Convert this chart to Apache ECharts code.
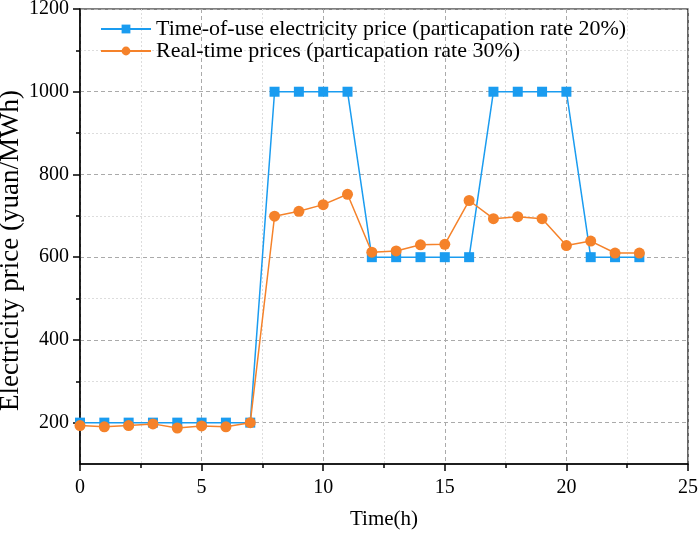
<!DOCTYPE html>
<html><head><meta charset="utf-8">
<script src="https://cdn.jsdelivr.net/npm/echarts@6/dist/echarts.min.js"></script>
<style>html,body{margin:0;padding:0;background:#fff}#c{width:699px;height:535px}</style>
</head><body><div id="c"></div>
<script>
const hours = [0,1,2,3,4,5,6,7,8,9,10,11,12,13,14,15,16,17,18,19,20,21,22,23];
const touPrice = [200,200,200,200,200,200,200,200,1000,1000,1000,1000,600,600,600,600,600,1000,1000,1000,1000,600,600,600];
const rtPrice = [193,190,193,197,187,192,190,200,699,711,727,752,612,615,630,631,737,693,698,693,628,639,610,610];
const yMajorTicks = [200,400,600,800,1000,1200];
const yMinorTicks = [300,500,700,900,1100];
const seriesNames = ['Time-of-use electricity price (particapation rate 20%)','Real-time prices (particapation rate 30%)'];

const font = 'Liberation Serif, Times New Roman, serif';
const chart = echarts.init(document.getElementById('c'));
chart.setOption({
  animation:false,
  textStyle:{fontFamily:font},
  grid:{left:80,right:11,top:9,bottom:71,outerBoundsMode:'none',containLabel:false,show:true,borderColor:'#000',borderWidth:1.2,backgroundColor:'transparent'},
  legend:{
    orient:'vertical', left:95, top:13, itemWidth:50, itemHeight:11, itemGap:0,
    textStyle:{fontFamily:font,fontSize:22,color:'#000'},
    data:seriesNames
  },
  xAxis:{
    type:'value', min:0, max:25, interval:5,
    name:'Time(h)', nameLocation:'middle', nameGap:45, nameMoveOverlap:false,
    nameTextStyle:{fontFamily:font,fontSize:21,color:'#000'},
    axisLine:{show:true,lineStyle:{color:'#000',width:1.5}},
    axisTick:{show:true,length:7,lineStyle:{color:'#000',width:1.5}},
    minorTick:{show:true,splitNumber:2,length:4,lineStyle:{color:'#000',width:1.5}},
    axisLabel:{fontFamily:font,fontSize:20,color:'#000',margin:14},
    splitLine:{show:true,lineStyle:{color:'#aaa',type:[4,3],width:1}},
    minorSplitLine:{show:true,lineStyle:{color:'#ddd',type:[2,2],width:1}}
  },
  yAxis:[{
    type:'value', min:100, max:1200,
    name:'Electricity price (yuan/MWh)', nameLocation:'middle', nameGap:56, nameMoveOverlap:false,
    nameTextStyle:{fontFamily:font,fontSize:27,color:'#000',padding:[0,28,0,0]},
    axisLine:{show:true,lineStyle:{color:'#000',width:1.5}},
    axisTick:{show:true,length:7,customValues:yMajorTicks,lineStyle:{color:'#000',width:1.5}},
    axisLabel:{fontFamily:font,fontSize:20,color:'#000',margin:11,customValues:yMajorTicks,formatter:v=>String(v)},
    splitLine:{show:true,lineStyle:{color:'#aaa',type:[4,3],width:1}}
  },{
    type:'value', min:100, max:1200, position:'left',
    axisLine:{show:false},
    axisTick:{show:true,length:4,customValues:yMinorTicks,lineStyle:{color:'#000',width:1.5}},
    axisLabel:{show:false,customValues:yMinorTicks},
    splitLine:{show:true,lineStyle:{color:'#ddd',type:[2,2],width:1}}
  }],
  series:[{
    name:seriesNames[0], type:'line', yAxisIndex:0,
    data:hours.map((h,i)=>[h,touPrice[i]]),
    symbol:'rect', symbolSize:10,
    itemStyle:{color:'#1A9CF0'}, lineStyle:{color:'#1A9CF0',width:1.5}, z:2
  },{
    name:seriesNames[1], type:'line', yAxisIndex:0,
    data:hours.map((h,i)=>[h,rtPrice[i]]),
    symbol:'circle', symbolSize:11,
    itemStyle:{color:'#F5822A'}, lineStyle:{color:'#F5822A',width:1.5}, z:3
  }]
});
</script></body></html>
